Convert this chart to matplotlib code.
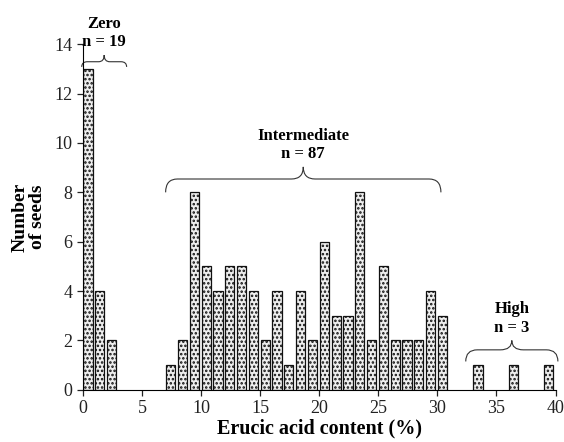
import numpy as np
import matplotlib.pyplot as plt
from matplotlib.path import Path
from matplotlib.patches import PathPatch

plt.rcParams['font.family'] = ['Liberation Serif', 'DejaVu Serif']
plt.rcParams['hatch.color'] = '#444444'
plt.rcParams['hatch.linewidth'] = 1.2

# bin start (% erucic acid) and seed counts
zero_bins = [0, 1, 2]
zero_counts = [13, 4, 2]
mid_bins = list(range(7, 31))
mid_counts = [1, 2, 8, 5, 4, 5, 5, 4, 2, 4, 1, 4, 2, 6, 3, 3, 8, 2, 5, 2, 2, 2, 4, 3]
high_bins = [33, 36, 39]
high_counts = [1, 1, 1]

groups = [("Zero\nn = 19", -0.1, 3.7, 13.08, 13.29, 13.56),
          ("Intermediate\nn = 87", 7.0, 30.3, 8.0, 8.54, 9.03),
          ("High\nn = 3", 32.4, 40.2, 1.15, 1.62, 2.0)]


def brace(ax, x0, x1, yend, yh, ytip, rx):
    xm = (x0 + x1) / 2
    verts = [(x0, yend), (x0, yh), (x0 + rx, yh),
             (xm - rx, yh),
             (xm, yh), (xm, ytip),
             (xm, yh), (xm + rx, yh),
             (x1 - rx, yh),
             (x1, yh), (x1, yend)]
    codes = [Path.MOVETO, Path.CURVE3, Path.CURVE3,
             Path.LINETO,
             Path.CURVE3, Path.CURVE3,
             Path.CURVE3, Path.CURVE3,
             Path.LINETO,
             Path.CURVE3, Path.CURVE3]
    ax.add_patch(PathPatch(Path(verts, codes), fill=False, lw=0.8,
                           edgecolor='#333333', clip_on=False))


fig = plt.figure(figsize=(5.64, 4.42), dpi=100)
ax = fig.add_axes([0.147, 0.118, 0.838, 0.782])

bins = zero_bins + mid_bins + high_bins
counts = zero_counts + mid_counts + high_counts
ax.bar(np.array(bins) + 0.43, counts, width=0.78, facecolor='#eeeeee',
       edgecolor='#111111', linewidth=0.9, hatch='....')

for label, x0, x1, yend, yh, ytip in groups:
    rx = min(1.0, (x1 - x0) / 8)
    brace(ax, x0, x1, yend, yh, ytip, rx)
    ax.text((x0 + x1) / 2, ytip + 0.2, label, ha='center', va='bottom',
            fontsize=12, fontweight='bold', linespacing=1.2)

ax.set_xlim(0, 40)
ax.set_ylim(0, 14)
ax.set_xticks(range(0, 41, 5))
ax.set_yticks(range(0, 15, 2))
ax.spines['top'].set_visible(False)
ax.spines['right'].set_visible(False)
ax.tick_params(labelsize=13, length=4, width=0.9, colors='#222222')
ax.set_xlabel("Erucic acid content (%)", fontsize=14.5, fontweight='bold',
              labelpad=1)
ax.set_ylabel("Number\nof seeds", fontsize=14, fontweight='bold',
              linespacing=1.0, labelpad=6)

fig.savefig("out.png", dpi=100)
